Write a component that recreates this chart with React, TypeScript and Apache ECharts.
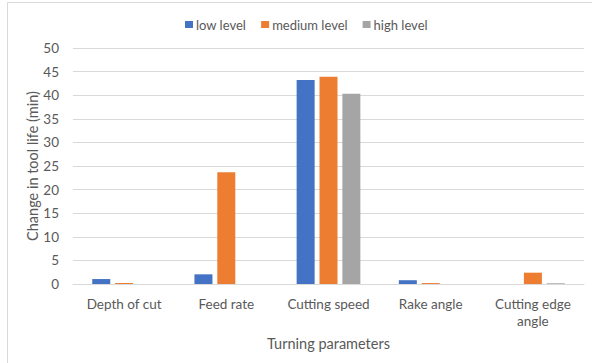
import React, { useEffect, useRef } from "react";
import * as echarts from "echarts";

const categories = ["Depth of cut", "Feed rate", "Cutting speed", "Rake angle", "Cutting edge\nangle"];
const lowLevel = [1.05, 2.05, 43.2, 0.8, 0];
const mediumLevel = [0.2, 23.7, 43.9, 0.2, 2.4];
const highLevel = [0, 0, 40.3, 0, 0.15];
const yTicks = { min: 0, max: 50, interval: 5 };

const FONT = "Lato, 'Open Sans', sans-serif";
const TEXT = "#595959";

export default function App() {
  const ref = useRef<HTMLDivElement>(null);

  useEffect(() => {
    document.body.style.margin = "0";
    if (!ref.current) return;
    const chart = echarts.init(ref.current, null, { renderer: "svg" });
    const barStyle = (color: string) => ({
      type: "bar" as const,
      barWidth: 18,
      barGap: "27%",
      itemStyle: { color },
    });
    chart.setOption({
      animation: false,
      backgroundColor: "#fff",
      textStyle: { fontFamily: FONT, color: TEXT },
      legend: {
        top: 13,
        left: 180,
        itemWidth: 8,
        itemHeight: 7,
        itemGap: 15,
        icon: "rect",
        textStyle: { fontFamily: FONT, color: TEXT, fontSize: 13, padding: [0, 0, 0, -2] },
        data: ["low level", "medium level", "high level"],
      },
      grid: { left: 73, right: 8, top: 48, bottom: 79, containLabel: false },
      xAxis: {
        type: "category",
        data: categories,
        name: "Turning parameters",
        nameLocation: "middle",
        nameGap: 52,
        nameMoveOverlap: false,
        nameTextStyle: { fontFamily: FONT, color: TEXT, fontSize: 14.5 },
        axisLine: { lineStyle: { color: "#D9D9D9", width: 1 } },
        axisTick: { show: false },
        axisLabel: { interval: 0, fontFamily: FONT, color: TEXT, fontSize: 13.5, margin: 11, lineHeight: 17 },
      },
      yAxis: {
        type: "value",
        min: yTicks.min,
        max: yTicks.max,
        interval: yTicks.interval,
        name: "Change in tool life (min)",
        nameLocation: "middle",
        nameGap: 33,
        nameMoveOverlap: false,
        nameTextStyle: { fontFamily: FONT, color: TEXT, fontSize: 14.5 },
        axisLine: { show: false },
        axisTick: { show: false },
        splitLine: { lineStyle: { color: "#D9D9D9", width: 1 } },
        axisLabel: { fontFamily: FONT, color: TEXT, fontSize: 13.5, margin: 14 },
      },
      series: [
        { name: "low level", data: lowLevel, ...barStyle("#4472C4") },
        { name: "medium level", data: mediumLevel, ...barStyle("#ED7D31") },
        { name: "high level", data: highLevel, ...barStyle("#A5A5A5") },
      ],
      graphic: [
        { type: "line", shape: { x1: 7.5, y1: 2.5, x2: 7.5, y2: 363 }, style: { stroke: "#D9D9D9", lineWidth: 1 } },
        { type: "line", shape: { x1: 7.5, y1: 2.5, x2: 592, y2: 2.5 }, style: { stroke: "#D9D9D9", lineWidth: 1 } },
      ],
    });
    return () => chart.dispose();
  }, []);

  return <div ref={ref} style={{ width: 592, height: 363 }} />;
}
